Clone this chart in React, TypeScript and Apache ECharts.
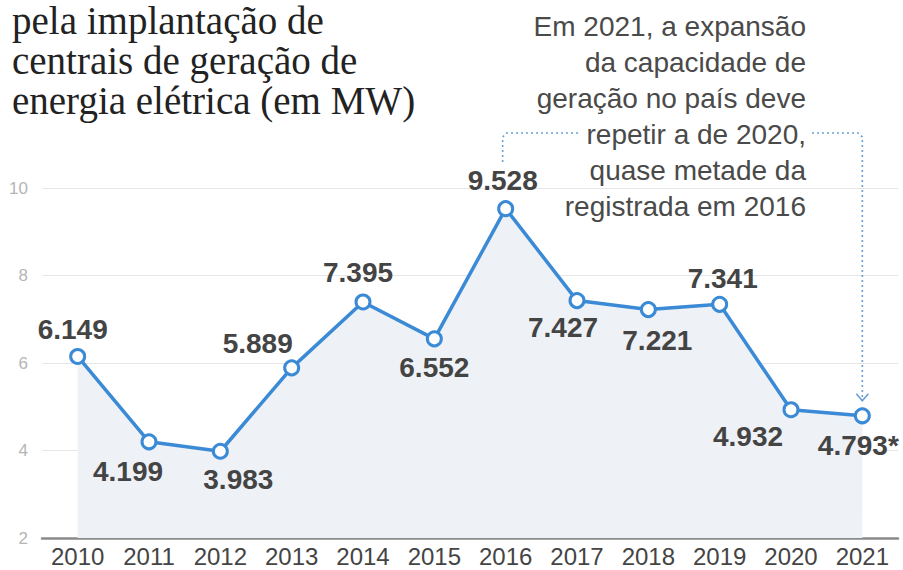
import React, { useEffect, useRef } from "react";
import * as echarts from "echarts";

const years = ["2010", "2011", "2012", "2013", "2014", "2015", "2016", "2017", "2018", "2019", "2020", "2021"];
const values = [6.149, 4.199, 3.983, 5.889, 7.395, 6.552, 9.528, 7.427, 7.221, 7.341, 4.932, 4.793];
const labelTexts = ["6.149", "4.199", "3.983", "5.889", "7.395", "6.552", "9.528", "7.427", "7.221", "7.341", "4.932", "4.793*"];
const yMin = 2;
const yMax = 10;
const yStep = 2;
const titleLines = ["pela implantação de", "centrais de geração de", "energia elétrica (em MW)"];
const noteLines = [
  "Em 2021, a expansão",
  "da capacidade de",
  "geração no país deve",
  "repetir a de 2020,",
  "quase metade da",
  "registrada em 2016",
];
const noteFromIndex = 6;
const noteToIndex = 11;

// label placement offsets (layout only), in pixels from each point's centre
const labelOffsets: [number, number][] = [
  [-5, -27], [-21, 30], [18, 28], [-34, -24], [-5, -29], [0, 29],
  [-3, -28], [-14, 27], [9, 31], [3, -26], [-43, 27], [-4, 30],
];

export default function App() {
  const ref = useRef<HTMLDivElement>(null);

  useEffect(() => {
    if (!ref.current) return;
    const chart = echarts.init(ref.current, undefined, { renderer: "svg" });
    const sans = "'Liberation Sans', Arial, sans-serif";
    const blue = "#3a8ad6";

    const data = values.map((v, i) => ({
      value: v,
      label: {
        position: "inside",
        offset: labelOffsets[i],
        formatter: () => labelTexts[i],
      },
    }));

    chart.setOption({
      animation: false,
      backgroundColor: "#ffffff",
      grid: { left: 42, right: 5, top: 188, bottom: 32, containLabel: false },
      xAxis: {
        type: "category",
        data: years,
        boundaryGap: true,
        axisLine: { lineStyle: { color: "#8a8a8a", width: 2.5 } },
        axisTick: { show: false },
        axisLabel: { color: "#444444", fontSize: 24, fontFamily: sans, margin: 6 },
        splitLine: { show: false },
      },
      yAxis: {
        type: "value",
        min: yMin,
        max: yMax,
        interval: yStep,
        axisLine: { show: false },
        axisTick: { show: false },
        axisLabel: { color: "#b5b5b5", fontSize: 17, fontFamily: sans, margin: 14 },
        splitLine: { lineStyle: { color: "#e6e6e6", width: 1 } },
      },
      series: [
        {
          type: "line",
          data,
          symbol: "circle",
          symbolSize: 14,
          showAllSymbol: true,
          lineStyle: { color: blue, width: 3.5 },
          itemStyle: { color: "#ffffff", borderColor: blue, borderWidth: 3 },
          areaStyle: { color: "#eef1f5", opacity: 1 },
          label: {
            show: true,
            color: "#444444",
            fontSize: 28,
            fontWeight: "bold",
            fontFamily: sans,
          },
          z: 3,
        },
      ],
    });

    const pFrom = chart.convertToPixel({ seriesIndex: 0 }, [noteFromIndex, values[noteFromIndex]]) as number[];
    const pTo = chart.convertToPixel({ seriesIndex: 0 }, [noteToIndex, values[noteToIndex]]) as number[];
    const lineY = 133;
    const x1 = pFrom[0] - 3;
    const x2 = pTo[0];
    const tipY = pTo[1] - 15;
    const dash = { stroke: "#6aa0d6", lineWidth: 1.6, lineDash: [2, 3], fill: null };

    chart.setOption({
      graphic: [
        {
          type: "text",
          x: 12,
          y: 0,
          style: {
            text: titleLines.join("\n"),
            font: "39px 'Liberation Serif', 'Times New Roman', serif",
            fill: "#222222",
            lineHeight: 40,
            verticalAlign: "top",
          },
        },
        {
          type: "text",
          x: 806,
          y: 8,
          style: {
            text: noteLines.join("\n"),
            font: "28px " + sans,
            fill: "#4a4a4a",
            lineHeight: 36,
            align: "right",
            verticalAlign: "top",
          },
        },
        {
          type: "polyline",
          shape: { points: [[x1, 162], [x1, lineY + 4], [x1 + 4, lineY], [578, lineY]] },
          style: dash,
        },
        {
          type: "polyline",
          shape: { points: [[812, lineY], [x2 - 4, lineY], [x2, lineY + 4], [x2, tipY]] },
          style: dash,
        },
        {
          type: "polyline",
          shape: { points: [[x2 - 6, tipY - 7], [x2, tipY], [x2 + 6, tipY - 7]] },
          style: { stroke: "#6aa0d6", lineWidth: 1.6, fill: null },
        },
      ],
    });

    return () => chart.dispose();
  }, []);

  return (
    <div
      ref={ref}
      style={{ position: "fixed", left: 0, top: 0, width: 903, height: 570, background: "#fff" }}
    />
  );
}
